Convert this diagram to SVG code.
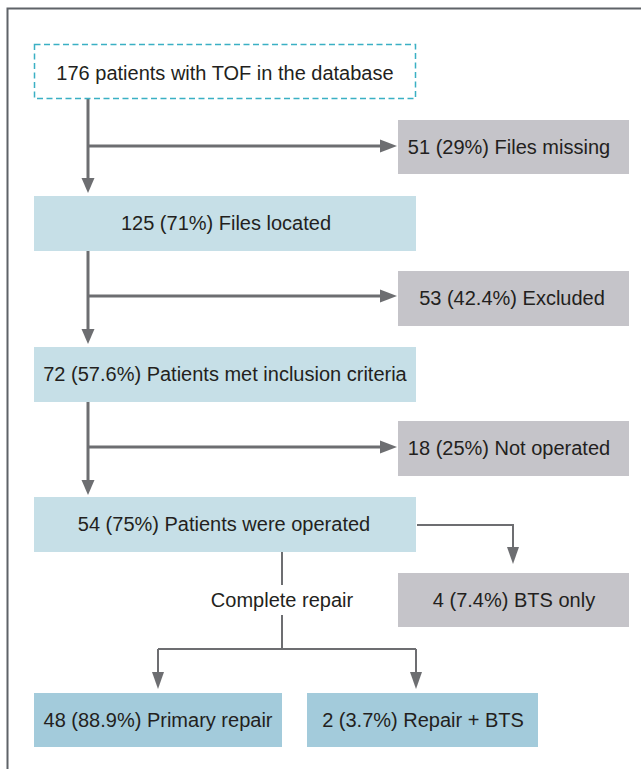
<svg xmlns="http://www.w3.org/2000/svg" width="641" height="769" viewBox="0 0 641 769">
<style>
text{font-family:"Liberation Sans",Arial,sans-serif;font-size:20px;fill:#231f20;text-anchor:middle}
.blue{fill:#c6dfe7}
.gray{fill:#c5c4c9}
.dblue{fill:#a3cbdb}
.main{stroke:#6d6e71;stroke-width:3;fill:none}
.thin{stroke:#6d6e71;stroke-width:2;fill:none}
.head{fill:#6d6e71}
</style>
<rect x="0" y="0" width="641" height="769" fill="#ffffff"/>
<path d="M7.5 769 V8.5 H641" fill="none" stroke="#5f6368" stroke-width="2"/>
<g id="connectors">
<path class="main" d="M88 99 V180"/>
<polygon class="head" points="81.5,178 94.5,178 88,193"/>
<path class="main" d="M88 146 H380"/>
<polygon class="head" points="380,139.5 380,152.5 397,146"/>
<path class="main" d="M88 251 V331"/>
<polygon class="head" points="81.5,329 94.5,329 88,344"/>
<path class="main" d="M88 296 H380"/>
<polygon class="head" points="380,289.5 380,302.5 397,296"/>
<path class="main" d="M88 402 V482"/>
<polygon class="head" points="81.5,480 94.5,480 88,495"/>
<path class="main" d="M88 447 H380"/>
<polygon class="head" points="380,440.5 380,453.5 397,447"/>
<path class="thin" d="M417 525 H513 V550"/>
<polygon class="head" points="507,547 519,547 513,564"/>
<path class="thin" d="M282 552 V585"/>
<path class="thin" d="M282 615 V649 M158 649 H416 M158 649 V674 M416 649 V674"/>
<polygon class="head" points="152,672 164,672 158,689"/>
<polygon class="head" points="410,672 422,672 416,689"/>
</g>
<g id="n-database">
<rect x="34.5" y="44.5" width="381" height="54" fill="#ffffff" stroke="#3ab0c4" stroke-width="1.5" stroke-dasharray="6,3.5"/>
<text x="225" y="80">176 patients with TOF in the database</text>
</g>
<g id="n-missing">
<rect class="gray" x="398" y="120" width="231" height="54"/>
<text x="509" y="154">51 (29%) Files missing</text>
</g>
<g id="n-located">
<rect class="blue" x="34" y="196" width="382" height="55"/>
<text x="226" y="230">125 (71%) Files located</text>
</g>
<g id="n-excluded">
<rect class="gray" x="398" y="271" width="231" height="55"/>
<text x="512" y="305">53 (42.4%) Excluded</text>
</g>
<g id="n-inclusion">
<rect class="blue" x="34" y="347" width="382" height="55"/>
<text x="225" y="381">72 (57.6%) Patients met inclusion criteria</text>
</g>
<g id="n-notoperated">
<rect class="gray" x="398" y="421" width="231" height="55"/>
<text x="509" y="455">18 (25%) Not operated</text>
</g>
<g id="n-operated">
<rect class="blue" x="34" y="497" width="382" height="55"/>
<text x="224" y="531">54 (75%) Patients were operated</text>
</g>
<g id="n-btsonly">
<rect class="gray" x="398" y="573" width="231" height="54"/>
<text x="514" y="607">4 (7.4%) BTS only</text>
</g>
<g id="l-complete">
<text x="282" y="607">Complete repair</text>
</g>
<g id="n-primary">
<rect class="dblue" x="34" y="693" width="248" height="54"/>
<text x="158" y="727">48 (88.9%) Primary repair</text>
</g>
<g id="n-repairbts">
<rect class="dblue" x="307" y="693" width="231" height="54"/>
<text x="423" y="727">2 (3.7%) Repair + BTS</text>
</g>
</svg>
